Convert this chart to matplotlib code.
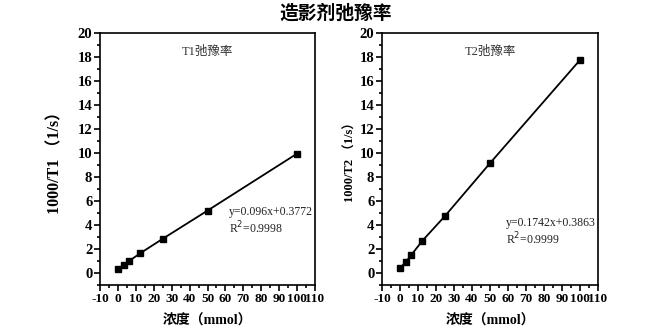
import numpy as np
import matplotlib.pyplot as plt
from matplotlib.ticker import MultipleLocator

plt.rcParams['font.family'] = ['Liberation Serif', 'Noto Sans CJK SC']

conc = [0, 3.125, 6.25, 12.5, 25, 50, 100]
r1 = [0.35, 0.65, 1.0, 1.65, 2.85, 5.2, 9.95]
r2 = [0.4, 0.9, 1.5, 2.7, 4.75, 9.15, 17.75]
panel_titles = ["T1弛豫率", "T2弛豫率"]
ylabels = ["1000/T1 （1/s）", "1000/T2 （1/s）"]
fits = ["y=0.096x+0.3772\nR$^2$=0.9998", "y=0.1742x+0.3863\nR$^2$=0.9999"]
fit_pos = [(62, 5.6), (59, 4.7)]
xticks = list(range(-10, 111, 10))

fig = plt.figure(figsize=(6.71, 3.35), dpi=100)
axes = [fig.add_axes([100/671, 1-285/335, 215/671, 252/335]),
        fig.add_axes([382/671, 1-285/335, 216/671, 252/335])]

for i, (ax, y) in enumerate(zip(axes, [r1, r2])):
    ax.plot(conc, y, color='black', lw=1.3, marker='s', ms=4.5)
    ax.set_xlim(-10, 110)
    ax.set_ylim(-1, 20)
    ax.set_xticks(xticks)
    ax.set_xticklabels([str(v) for v in xticks])
    ax.xaxis.set_minor_locator(MultipleLocator(5))
    ax.yaxis.set_major_locator(MultipleLocator(2))
    ax.yaxis.set_minor_locator(MultipleLocator(1))
    ax.tick_params(which='both', direction='out', width=1.2, pad=1.5)
    ax.tick_params(axis='x', labelsize=9.5)
    ax.tick_params(axis='y', labelsize=10.5)
    ax.tick_params(which='major', length=4)
    ax.tick_params(which='minor', length=2)
    for lab in ax.get_xticklabels() + ax.get_yticklabels():
        lab.set_fontweight('bold')
    for s in ax.spines.values():
        s.set_linewidth(1.2)
    ax.text(0.5, 0.95, panel_titles[i], transform=ax.transAxes, ha='center', va='top',
            fontsize=9, color='#333333')
    ax.text(fit_pos[i][0], fit_pos[i][1], fits[i], fontsize=8.5, va='top',
            color='#222222', linespacing=1.15)
    ax.set_xlabel("浓度（mmol）", fontsize=10, fontweight='bold', labelpad=7)

axes[0].set_ylabel(ylabels[0], fontsize=11.5, fontweight='bold', labelpad=10)
axes[1].set_ylabel(ylabels[1], fontsize=9, fontweight='bold', labelpad=2)

fig.text(0.5, 0.962, "造影剂弛豫率", ha='center', va='center', fontsize=13.5,
         fontweight='bold', family=['Noto Sans CJK SC'])

fig.savefig("out.png", dpi=100)
